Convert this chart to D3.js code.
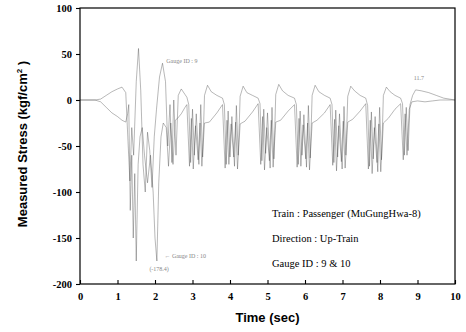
<!DOCTYPE html>
<html>
<head>
<meta charset="utf-8">
<script src="https://cdn.jsdelivr.net/npm/d3@7"></script>
<style>
  body { margin: 0; background: #fff; }
  svg { display: block; }
</style>
</head>
<body>
<div id="chart"></div>
<script>
// values (time in sec, stress in kgf/cm2)
var g9Time = [0, 0.4, 0.55, 0.7, 0.85, 1.0, 1.12, 1.22, 1.28, 1.33, 1.38, 1.43, 1.5, 1.56, 1.62, 1.68, 1.74, 1.8, 1.86, 1.92, 1.98, 2.04, 2.12, 2.2, 2.28, 2.34, 2.4, 2.45, 2.5, 2.56, 2.62, 2.7, 2.8,
  2.85, 2.9, 2.95, 3.0, 3.05, 3.1, 3.17, 3.22, 3.27, 3.32, 3.4, 3.5, 3.65, 3.8,
  3.85, 3.9, 3.95, 4.0, 4.05, 4.12, 4.17, 4.22, 4.27, 4.35, 4.45, 4.6, 4.75,
  4.8, 4.85, 4.9, 4.95, 5.0, 5.07, 5.12, 5.17, 5.22, 5.3, 5.4, 5.55, 5.72,
  5.77, 5.82, 5.87, 5.92, 5.97, 6.04, 6.09, 6.14, 6.19, 6.27, 6.37, 6.52, 6.67,
  6.72, 6.77, 6.82, 6.87, 6.92, 6.99, 7.04, 7.09, 7.14, 7.22, 7.32, 7.47, 7.62,
  7.67, 7.72, 7.77, 7.82, 7.87, 7.94, 7.99, 8.04, 8.09, 8.17, 8.27, 8.4, 8.55,
  8.6, 8.65, 8.7, 8.75, 8.8, 8.87, 8.95, 9.1, 9.3, 9.5, 9.7, 9.85, 10];
var g9Stress = [0, 0, 1, 5, 9, 12, 14, 8, -45, -88, -30, -60, 20, 56, 10, -70, -100, -35, -55, -95, -40, -10, 25, 40, 20, -50, -5, -68, 0, -60, 5, 12, 6,
  3, -5, -68, -10, -60, -15, -70, -5, -62, 5, 16, 9, 5, 2,
  -5, -70, -12, -62, -18, -72, -6, -60, 4, 15, 8, 5, 2,
  -4, -66, -10, -58, -14, -74, -8, -64, 6, 17, 10, 5, 2,
  -5, -70, -12, -60, -16, -73, -6, -63, 5, 16, 9, 5, 2,
  -5, -68, -11, -62, -15, -75, -7, -60, 4, 15, 10, 5, 2,
  -6, -72, -13, -64, -18, -78, -8, -65, 5, 14, 9, 5, 2,
  -4, -60, -8, -55, -5, 5, 11, 10, 8, 5, 2, 1, 0];

var g10Time = [0, 0.4, 0.55, 0.7, 0.85, 1.0, 1.12, 1.22, 1.27, 1.3, 1.34, 1.38, 1.42, 1.46, 1.5, 1.55, 1.6, 1.66, 1.72, 1.8, 1.88, 1.95, 2.0, 2.05, 2.1, 2.16, 2.22, 2.3, 2.36, 2.42, 2.48, 2.54, 2.6, 2.7, 2.8,
  2.85, 2.92, 2.97, 3.02, 3.08, 3.15, 3.2, 3.25, 3.32, 3.45, 3.65, 3.8,
  3.87, 3.92, 3.97, 4.03, 4.1, 4.15, 4.2, 4.27, 4.4, 4.6, 4.75,
  4.82, 4.87, 4.92, 4.98, 5.05, 5.1, 5.15, 5.22, 5.35, 5.55, 5.72,
  5.79, 5.84, 5.89, 5.95, 6.02, 6.07, 6.12, 6.19, 6.32, 6.52, 6.67,
  6.74, 6.79, 6.84, 6.9, 6.97, 7.02, 7.07, 7.14, 7.27, 7.47, 7.62,
  7.69, 7.74, 7.79, 7.85, 7.92, 7.97, 8.02, 8.09, 8.22, 8.4, 8.55,
  8.62, 8.67, 8.72, 8.78, 8.85, 9.0, 9.2, 9.4, 9.6, 9.8, 10];
var g10Stress = [0, 0, -2, -8, -14, -18, -22, -24, -15, -5, -120, -60, -150, -80, -175, -70, -40, -30, -60, -90, -60, -100, -150, -175, -90, -40, -25, -30, -72, -25, -70, -22, -20, -15, -8,
  -5, -72, -20, -75, -28, -65, -25, -72, -25, -24, -14, -5,
  -74, -22, -70, -26, -62, -24, -75, -26, -23, -13, -4,
  -70, -18, -76, -30, -66, -22, -73, -24, -22, -12, -5,
  -73, -20, -72, -27, -64, -25, -76, -25, -22, -14, -5,
  -71, -21, -77, -28, -67, -23, -74, -24, -21, -12, -4,
  -75, -22, -80, -30, -68, -26, -78, -25, -20, -10, -4,
  -65, -15, -60, -10, -2, -1, -2, -1, 0, 0, 0];

var xTicks = [0, 1, 2, 3, 4, 5, 6, 7, 8, 9, 10];
var yTicks = [100, 50, 0, -50, -100, -150, -200];
var infoLines = ["Train  :  Passenger (MuGungHwa-8)", "Direction  :  Up-Train", "Gauge ID  :  9 & 10"];

var width = 466, height = 332;
var margin = {top: 8, right: 11, bottom: 48, left: 80};
var w = width - margin.left - margin.right;
var h = height - margin.top - margin.bottom;

var svg = d3.select("#chart").append("svg")
  .attr("width", width)
  .attr("height", height);

var g = svg.append("g")
  .attr("transform", "translate(" + margin.left + "," + margin.top + ")");

var x = d3.scaleLinear().domain([0, 10]).range([0, w]);
var y = d3.scaleLinear().domain([-200, 100]).range([h, 0]);

var serif = "'Liberation Serif', 'Times New Roman', serif";
var sans = "'Liberation Sans', Arial, sans-serif";

// series - faint, like the scanned original
var line = d3.line()
  .x(function(d) { return x(d[0]); })
  .y(function(d) { return y(d[1]); });

[[g10Time, g10Stress], [g9Time, g9Stress]].forEach(function(s) {
  g.append("path")
    .datum(d3.zip(s[0], s[1]))
    .attr("fill", "none")
    .attr("stroke", "#444")
    .attr("stroke-opacity", 0.55)
    .attr("stroke-width", 0.7)
    .attr("d", line);
});

// frame
g.append("rect")
  .attr("width", w).attr("height", h)
  .attr("fill", "none")
  .attr("stroke", "#000")
  .attr("stroke-width", 1.2);

var xAxis = g.append("g")
  .attr("transform", "translate(0," + h + ")")
  .call(d3.axisBottom(x).tickValues(xTicks).tickSize(-4).tickPadding(9).tickFormat(d3.format("d")));
var yAxis = g.append("g")
  .call(d3.axisLeft(y).tickValues(yTicks).tickSize(4).tickPadding(4).tickFormat(function(d) { return d < 0 ? "-" + Math.abs(d) : d; }));

[xAxis, yAxis].forEach(function(a) {
  a.select(".domain").remove();
  a.selectAll("line").attr("stroke", "#000").attr("stroke-width", 1.1);
  a.selectAll("text")
    .attr("fill", "#000")
    .style("font-family", serif)
    .style("font-weight", "bold")
    .style("font-size", "10.5px");
});

// axis titles
svg.append("text")
  .attr("x", margin.left + w / 2)
  .attr("y", 322)
  .attr("text-anchor", "middle")
  .style("font-family", sans)
  .style("font-weight", "bold")
  .style("font-size", "13px")
  .text("Time (sec)");

var yt = svg.append("text")
  .attr("transform", "translate(27,144) rotate(-90)")
  .attr("text-anchor", "middle")
  .style("font-family", sans)
  .style("font-weight", "bold")
  .style("font-size", "13px");
yt.append("tspan").text("Measured Stress (kgf/cm");
yt.append("tspan").attr("dy", -5).style("font-size", "8px").text("2");
yt.append("tspan").attr("dy", 5).text(" )");

// info block
g.selectAll(".info")
  .data(infoLines)
  .enter().append("text")
  .attr("class", "info")
  .attr("x", 192)
  .attr("y", function(d, i) { return 209 + i * 25; })
  .style("font-family", serif)
  .style("font-size", "10.5px")
  .text(function(d) { return d; });

// small annotations on the curves
var note = function(tx, ty, txt) {
  g.append("text")
    .attr("x", x(tx)).attr("y", y(ty))
    .attr("fill", "#888")
    .style("font-family", serif)
    .style("font-size", "6px")
    .text(txt);
};
note(2.3, 40, "Gauge ID : 9");
note(2.25, -172, "\u2190 Gauge ID : 10");
note(1.85, -186, "(-178.4)");
note(8.9, 22, "11.7");
</script>
</body>
</html>
